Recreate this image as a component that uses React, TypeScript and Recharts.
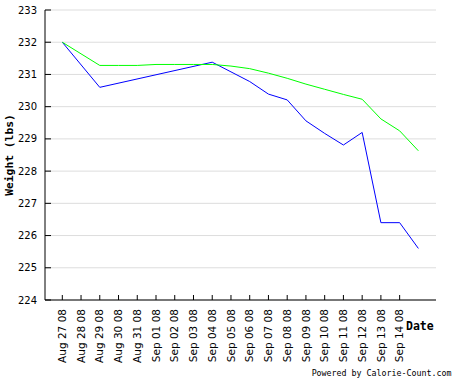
import React from 'react';
import { LineChart, Line, XAxis, YAxis, CartesianGrid, Label } from 'recharts';

const dateLabels = [
  'Aug 27 08', 'Aug 28 08', 'Aug 29 08', 'Aug 30 08', 'Aug 31 08',
  'Sep 01 08', 'Sep 02 08', 'Sep 03 08', 'Sep 04 08', 'Sep 05 08',
  'Sep 06 08', 'Sep 07 08', 'Sep 08 08', 'Sep 09 08', 'Sep 10 08',
  'Sep 11 08', 'Sep 12 08', 'Sep 13 08', 'Sep 14 08',
];
const dates = [...dateLabels, 'Sep 15 08'];
const weightBlue: (number | null)[] = [
  232.0, null, 230.6, null, null, null, null, null, 231.38, 231.08,
  230.78, 230.39, 230.21, 229.56, 229.17, 228.81, 229.2, 226.4, 226.4, 225.6,
];
const trendGreen: (number | null)[] = [
  232.0, null, 231.28, 231.28, 231.28, 231.31, 231.31, 231.31, 231.31, 231.26,
  231.18, 231.04, 230.88, 230.7, 230.54, 230.38, 230.23, 229.62, 229.25, 228.63,
];
const yTicks = [224, 225, 226, 227, 228, 229, 230, 231, 232, 233];
const xTicks = dateLabels.map((_, i) => i);

const data = dates.map((d, i) => ({ idx: i, date: d, weight: weightBlue[i], trend: trendGreen[i] }));

const YTick = (props: any) => {
  const { x, y, payload } = props;
  return (
    <g>
      <line x1={x + 8} x2={x + 14} y1={y} y2={y} stroke="#000" />
      <text x={x} y={y} dy="0.35em" textAnchor="end" fontFamily="DejaVu Sans" fontSize={10} fill="#000">
        {payload.value}
      </text>
    </g>
  );
};

const XTick = (props: any) => {
  const { x, y, payload } = props;
  return (
    <g>
      <line x1={x} x2={x} y1={y - 9} y2={y - 14} stroke="#000" />
      <text
        x={x}
        y={y}
        dy="0.35em"
        textAnchor="end"
        transform={`rotate(-90, ${x}, ${y})`}
        fontFamily="DejaVu Sans"
        fontSize={10.5}
        fill="#000"
      >
        {dateLabels[payload.value]}
      </text>
    </g>
  );
};

export default function App() {
  return (
    <div style={{ position: 'absolute', left: 0, top: 0, width: 466, height: 389, background: '#fff' }}>
      <LineChart width={466} height={389} data={data} margin={{ top: 10, right: 30, bottom: 0, left: 0 }}>
        <CartesianGrid vertical={false} stroke="#dddddd" />
        <XAxis
          dataKey="idx"
          type="number"
          domain={[-0.923, 19.94]}
          allowDataOverflow
          ticks={xTicks}
          interval={0}
          height={89}
          tickSize={0}
          tickMargin={9}
          tickLine={false}
          tick={<XTick />}
          axisLine={{ stroke: '#000' }}
          label={{
            content: (p: any) => {
              const vb = p.viewBox;
              return (
                <text x={vb.x + vb.width - 30} y={vb.y + 29.5} fontFamily="DejaVu Sans Mono" fontWeight="bold" fontSize={11.5} fill="#000">
                  Date
                </text>
              );
            },
          }}
        >
          <Label
            content={(p: any) => {
              const vb = p.viewBox;
              return (
                <text x={vb.x + vb.width + 15.5} y={vb.y + 76} textAnchor="end" fontFamily="DejaVu Sans Mono" fontSize={8.3} fill="#000">
                  Powered by Calorie-Count.com
                </text>
              );
            }}
          />
        </XAxis>
        <YAxis
          type="number"
          domain={[224, 233]}
          ticks={yTicks}
          interval={0}
          width={45}
          tickSize={0}
          tickMargin={8}
          tickLine={false}
          tick={<YTick />}
          axisLine={{ stroke: '#000' }}
          label={{
            content: (p: any) => {
              const vb = p.viewBox;
              const cy = vb.y + vb.height / 2;
              return (
                <text
                  x={9.5}
                  y={cy}
                  dy="0.35em"
                  textAnchor="middle"
                  transform={`rotate(-90, 9.5, ${cy})`}
                  fontFamily="DejaVu Sans Mono"
                  fontWeight="bold"
                  fontSize={11.3}
                  fill="#000"
                >
                  Weight (lbs)
                </text>
              );
            },
          }}
        />
        <Line type="linear" dataKey="weight" stroke="#0000ff" strokeWidth={1} dot={false} connectNulls isAnimationActive={false} />
        <Line type="linear" dataKey="trend" stroke="#00ff00" strokeWidth={1} dot={false} connectNulls isAnimationActive={false} />
      </LineChart>
    </div>
  );
}
